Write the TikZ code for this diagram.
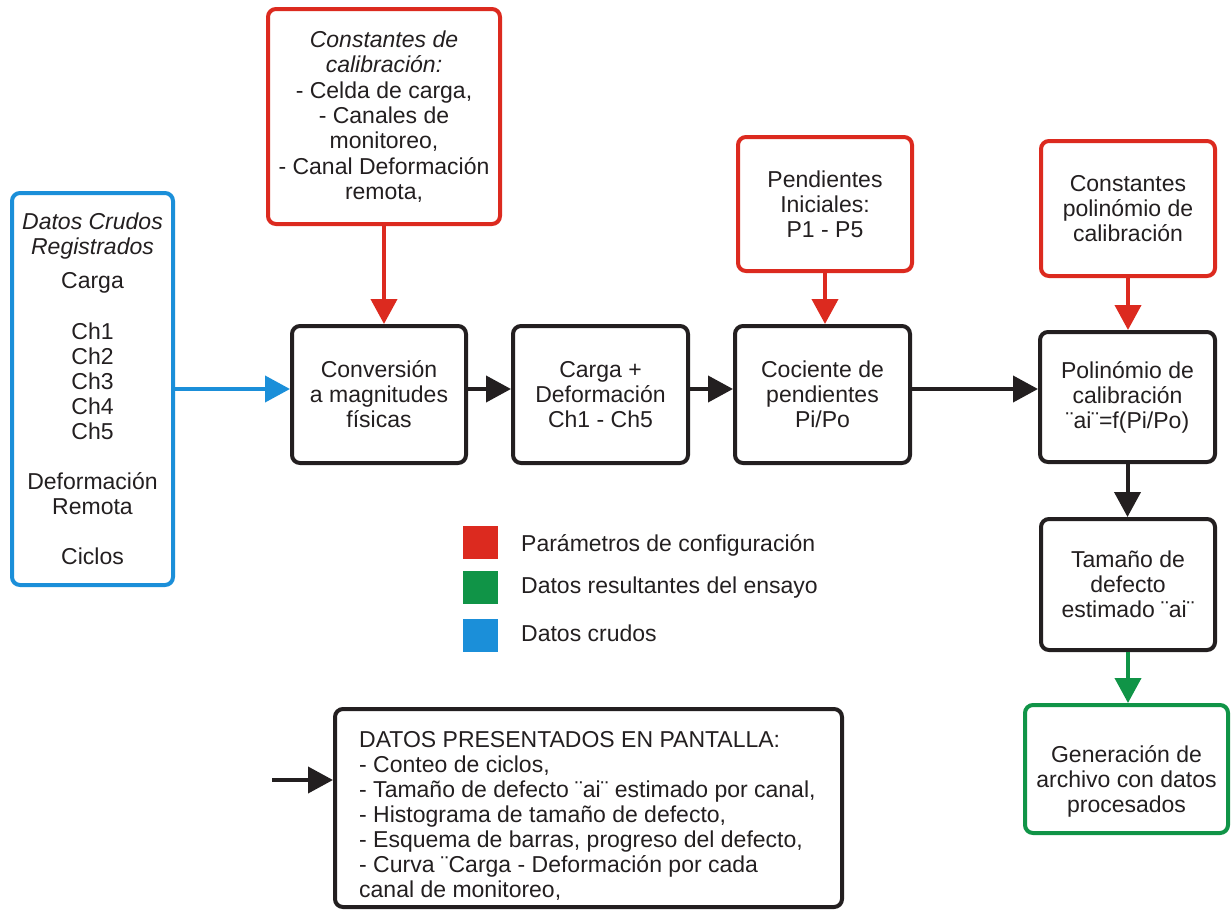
\documentclass[tikz,border=0pt]{standalone}
\usepackage{fontspec}
\setmainfont{Liberation Sans}
\usetikzlibrary{arrows.meta}

\definecolor{cfgred}{HTML}{DC2A1F}
\definecolor{resgreen}{HTML}{109447}
\definecolor{rawblue}{HTML}{1B8FD9}
\definecolor{ink}{HTML}{231F20}

\begin{document}
\begin{tikzpicture}[x=1pt,y=-1pt,
  every node/.style={font=\fontsize{23}{25}\selectfont, text=ink},
  box/.style={draw, line width=4pt, rounded corners=8pt, inner sep=0pt,
    align=center, fill=white},
  procbox/.style={box, draw=ink},
  cfgbox/.style={box, draw=cfgred},
  rawbox/.style={box, draw=rawblue},
  resbox/.style={box, draw=resgreen},
  flowarrow/.style={line width=4pt, -{Triangle[length=25pt,width=26pt]}},
  key/.style={minimum width=35pt, minimum height=33pt, inner sep=0pt},
  keytext/.style={anchor=west, inner sep=0pt}
]
\useasboundingbox (0,0) rectangle (1231,910);

% raw data column
\node[rawbox, minimum width=161pt, minimum height=392pt] (raw) at (92.5,389)
  {\textit{Datos Crudos}\\\textit{Registrados}\\[9pt]
   Carga\\[26pt]
   Ch1\\Ch2\\Ch3\\Ch4\\Ch5\\[25pt]
   Deformación\\Remota\\[25pt]
   Ciclos};

% configuration parameters
\node[cfgbox, minimum width=232pt, minimum height=215pt] (calib) at (384,116.5)
  {\textit{Constantes de}\\\textit{calibración:}\\[1pt]
   - Celda de carga,\\
   - Canales de\\monitoreo,\\[1pt]
   - Canal Deformación\\remota,};
\node[cfgbox, minimum width=174pt, minimum height=134pt] (pend) at (825,204)
  {Pendientes\\Iniciales:\\P1 - P5};
\node[cfgbox, minimum width=174pt, minimum height=135pt] (cpol) at (1128,208.5)
  {Constantes\\polinómio de\\calibración};

% processing chain
\node[procbox, minimum width=174pt, minimum height=137pt] (conv) at (379,394.5)
  {Conversión\\a magnitudes\\físicas};
\node[procbox, minimum width=175pt, minimum height=137pt] (carga) at (600.5,394.5)
  {Carga +\\Deformación\\Ch1 - Ch5};
\node[procbox, minimum width=175pt, minimum height=137pt] (coc) at (822.5,394.5)
  {Cociente de\\pendientes\\Pi/Po};
\node[procbox, minimum width=175pt, minimum height=130pt] (poli) at (1127.5,397)
  {Polinómio de\\calibración\\¨ai¨=f(Pi/Po)};
\node[procbox, minimum width=174pt, minimum height=131pt] (tam) at (1128,584.5)
  {Tamaño de\\defecto\\estimado ¨ai¨};

% output file
\node[resbox, minimum width=203pt, minimum height=128pt] (gen) at (1126.5,769) {};
\node[align=center, inner sep=0pt] (gentext) at (1126.5,781)
  {Generación de\\archivo con datos\\procesados};

% screen output
\node[procbox, minimum width=507pt, minimum height=198pt] (pant) at (588.5,808) {};
\node[align=left, anchor=west, inner sep=0pt] (panttext) at (359,816)
  {DATOS PRESENTADOS EN PANTALLA:\\
   - Conteo de ciclos,\\
   - Tamaño de defecto ¨ai¨ estimado por canal,\\
   - Histograma de tamaño de defecto,\\
   - Esquema de barras, progreso del defecto,\\
   - Curva ¨Carga - Deformación por cada\\
   canal de monitoreo,};

% legend
\node[key, fill=cfgred] (kred) at (480.5,542.5) {};
\node[key, fill=resgreen] (kgreen) at (480.5,587.5) {};
\node[key, fill=rawblue] (kblue) at (480.5,635) {};
\node[keytext] (tred) at (521,545) {Parámetros de configuración};
\node[keytext] (tgreen) at (521,588) {Datos resultantes del ensayo};
\node[keytext] (tblue) at (521,633) {Datos crudos};

% connectors
\coordinate (flow) at (0,389);
\coordinate (screenin) at (272,780);

\draw[flowarrow, rawblue] (raw.east |- flow) -- (conv.west |- flow);
\draw[flowarrow, ink] (conv.east |- flow) -- (carga.west |- flow);
\draw[flowarrow, ink] (carga.east |- flow) -- (coc.west |- flow);
\draw[flowarrow, ink] (coc.east |- flow) -- (poli.west |- flow);

\draw[flowarrow, cfgred] (calib.south) -- (calib.south |- conv.north);
\draw[flowarrow, cfgred] (pend.south) -- (pend.south |- coc.north);
\draw[flowarrow, cfgred] (cpol.south) -- (cpol.south |- poli.north);

\draw[flowarrow, ink] (poli.south) -- (poli.south |- tam.north);
\draw[flowarrow, resgreen] (tam.south) -- (tam.south |- gen.north);

\draw[flowarrow, ink] (screenin) -- (pant.west |- screenin);
\end{tikzpicture}
\end{document}
